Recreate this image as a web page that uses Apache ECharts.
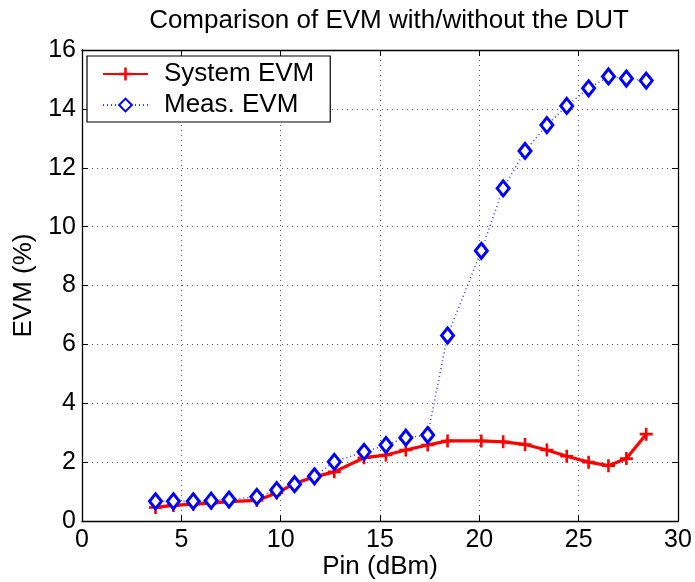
<!DOCTYPE html>
<html>
<head>
<meta charset="utf-8">
<script src="https://cdn.jsdelivr.net/npm/echarts@6/dist/echarts.min.js"></script>
<style>
html,body{margin:0;padding:0;background:#fff;}
#chart{width:695px;height:582px;}
</style>
</head>
<body>
<div id="chart"></div>
<script>
// Input power sweep (dBm)
const pin = [3.7, 4.6, 5.6, 6.5, 7.4, 8.8, 9.8, 10.7, 11.7, 12.7, 14.2, 15.3, 16.3, 17.4,
             18.4, 20.1, 21.2, 22.3, 23.4, 24.4, 25.5, 26.5, 27.4, 28.4];
// EVM of the test system alone (%)
const systemEvm = [0.46, 0.53, 0.57, 0.61, 0.66, 0.70, 0.95, 1.27, 1.50, 1.67, 2.15, 2.24, 2.41, 2.58,
                   2.72, 2.72, 2.69, 2.60, 2.41, 2.20, 2.00, 1.88, 2.12, 2.95];
// EVM measured with the DUT inserted (%)
const measEvm = [0.67, 0.67, 0.67, 0.69, 0.73, 0.82, 1.05, 1.25, 1.52, 2.01, 2.35, 2.58, 2.83, 2.92,
                 6.30, 9.18, 11.30, 12.57, 13.45, 14.10, 14.70, 15.10, 15.03, 14.96];
const xTicks = [0, 30, 5];
const yTicks = [0, 16, 2];

const font = 'Liberation Sans, Arial, Helvetica, sans-serif';
const plusPath = 'path://M4,0H6V4H10V6H6V10H4V6H0V4H4Z';

const pairs = (xs, ys) => xs.map((x, i) => [x, ys[i]]);

const gridLine = { show: true, lineStyle: { color: '#555', type: [1, 4], width: 1 } };
const axisLine = { show: true, onZero: false, lineStyle: { color: '#000', width: 1.3 } };
const tickIn = { show: true, inside: true, length: 6, lineStyle: { color: '#000' } };

const chart = echarts.init(document.getElementById('chart'));
chart.setOption({
  animation: false,
  backgroundColor: '#fff',
  title: {
    text: 'Comparison of EVM with/without the DUT',
    left: 384, top: 3, textAlign: 'center',
    textStyle: { fontFamily: font, fontSize: 26, fontWeight: 'normal', color: '#000' }
  },
  grid: { left: 82, right: 17, top: 50, bottom: 61, containLabel: false, outerBoundsMode: 'none' },
  legend: {
    left: 87, top: 56,
    orient: 'vertical',
    backgroundColor: '#fff',
    borderColor: '#000', borderWidth: 1.2,
    padding: [5, 16, 4, 15],
    itemWidth: 45, itemHeight: 16, itemGap: 5,
    textStyle: { fontFamily: font, fontSize: 26, color: '#000', padding: [0, 0, 0, 11] },
    data: ['System EVM', 'Meas. EVM']
  },
  xAxis: [{
    type: 'value', min: xTicks[0], max: xTicks[1], interval: xTicks[2],
    name: 'Pin (dBm)', nameLocation: 'middle', nameGap: 33, nameMoveOverlap: false,
    nameTextStyle: { fontFamily: font, fontSize: 26, color: '#000' },
    axisLine, axisTick: tickIn,
    axisLabel: { fontFamily: font, fontSize: 25, color: '#000', margin: 7 },
    splitLine: gridLine
  }, {
    type: 'value', position: 'top', min: xTicks[0], max: xTicks[1], interval: xTicks[2],
    axisLine, axisTick: tickIn, axisLabel: { show: false }, splitLine: { show: false }
  }],
  yAxis: [{
    type: 'value', min: yTicks[0], max: yTicks[1], interval: yTicks[2],
    name: 'EVM (%)', nameLocation: 'middle', nameGap: 44,
    nameTextStyle: { fontFamily: font, fontSize: 26, color: '#000' },
    axisLine, axisTick: tickIn,
    axisLabel: { fontFamily: font, fontSize: 25, color: '#000', margin: 6 },
    splitLine: gridLine
  }, {
    type: 'value', position: 'right', min: yTicks[0], max: yTicks[1], interval: yTicks[2],
    axisLine, axisTick: tickIn, axisLabel: { show: false }, splitLine: { show: false }
  }],
  series: [{
    name: 'System EVM',
    type: 'line',
    data: pairs(pin, systemEvm),
    symbol: plusPath, symbolSize: 13,
    itemStyle: { color: '#ff0000' },
    lineStyle: { color: '#ff0000', width: 3.2 },
    z: 3
  }, {
    name: 'Meas. EVM',
    type: 'line',
    data: pairs(pin, measEvm),
    symbol: 'diamond', symbolSize: [12, 15],
    showAllSymbol: true,
    itemStyle: { color: '#fff', borderColor: '#0000ff', borderWidth: 3 },
    lineStyle: { color: '#3344ff', width: 1.6, type: [1, 3] },
    z: 4
  }]
});
</script>
</body>
</html>
